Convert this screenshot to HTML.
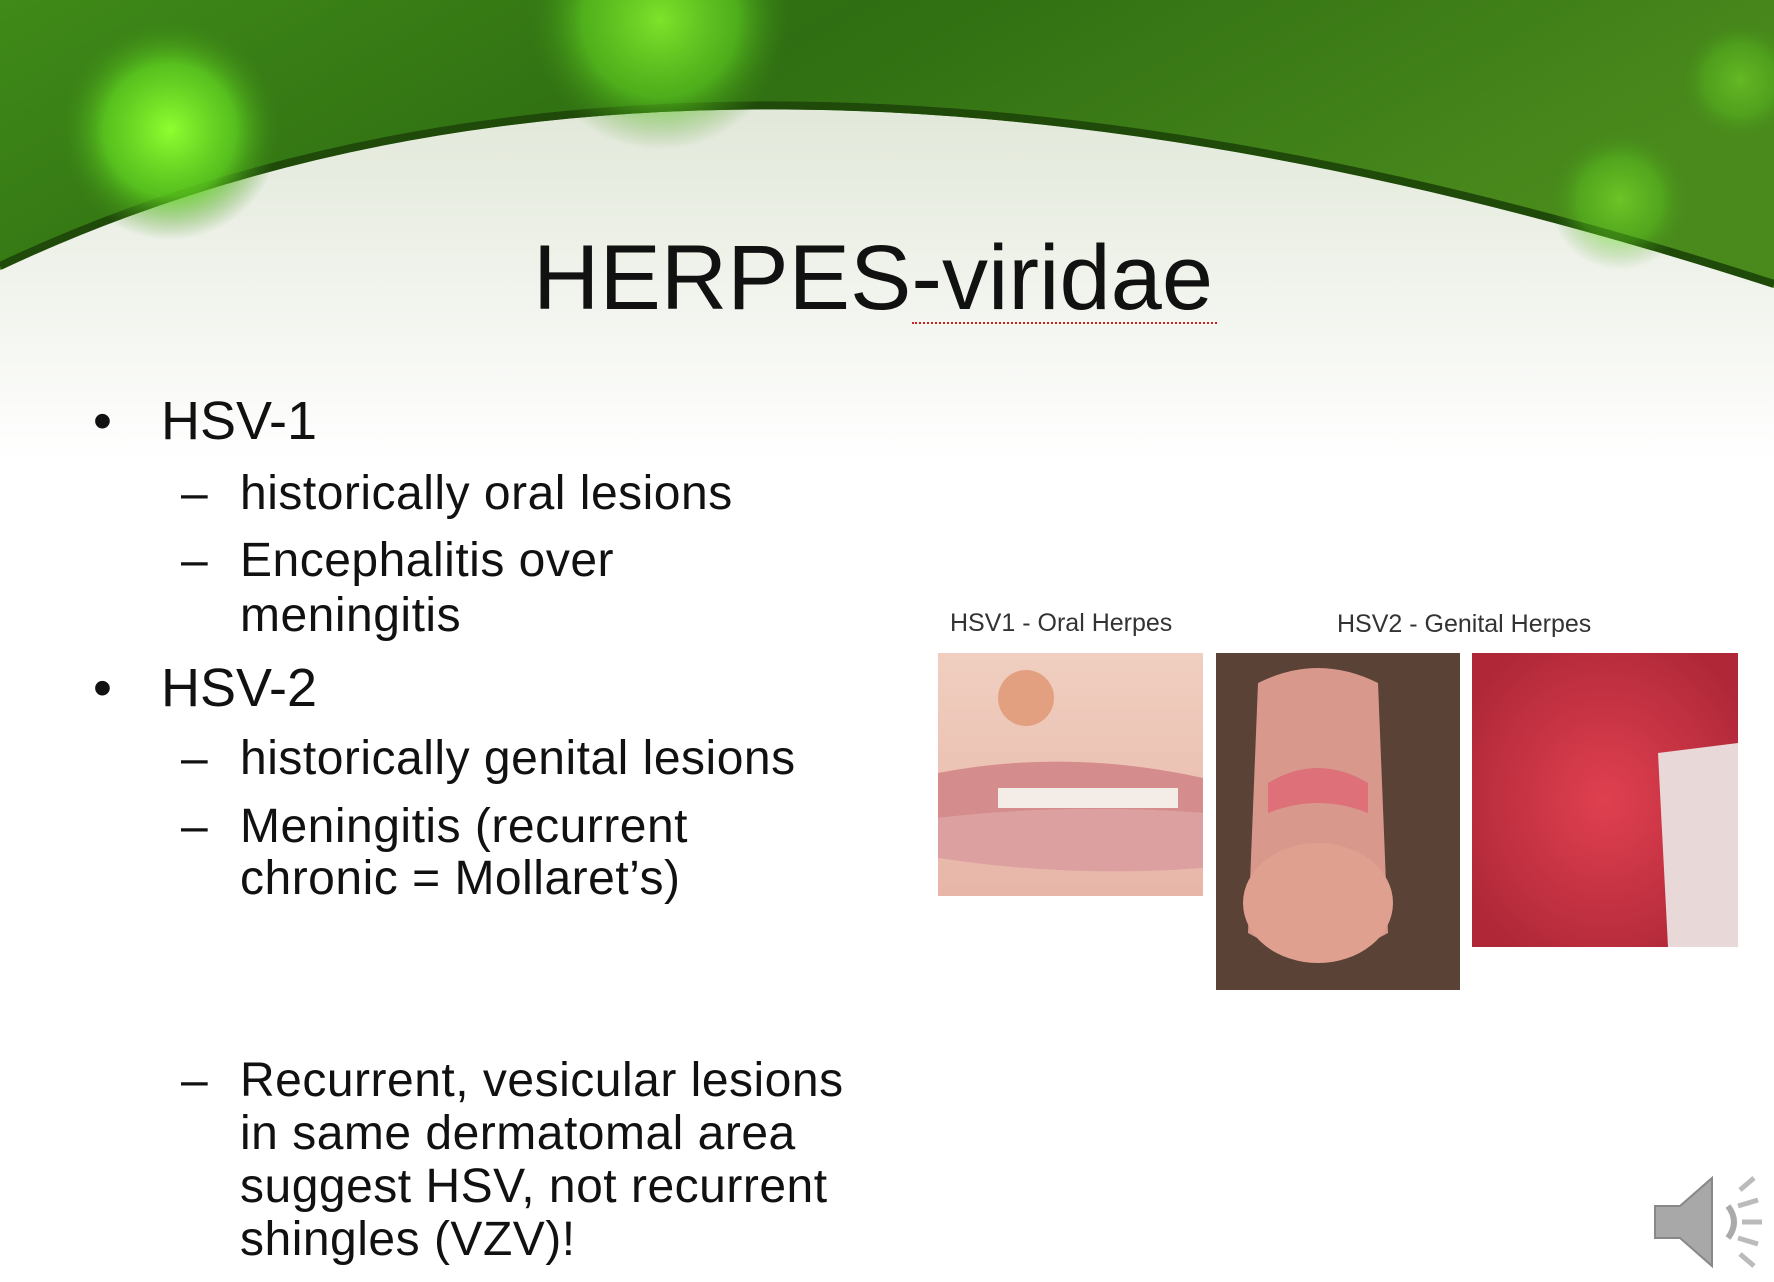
<!DOCTYPE html>
<html><head><meta charset="utf-8">
<style>
html,body{margin:0;padding:0;}
body{width:1774px;height:1282px;position:relative;overflow:hidden;background:#fff;font-family:"Liberation Sans",Arial,sans-serif;color:#111;}
.t{position:absolute;white-space:nowrap;line-height:1;}
.sub{font-size:48px;letter-spacing:0.5px;}
</style></head><body>
<svg style="position:absolute;left:0;top:0" width="1774" height="1282">
<defs>
<linearGradient id="g1" x1="0" y1="0" x2="1" y2="0.3">
<stop offset="0" stop-color="#3f8a18"/><stop offset="0.45" stop-color="#2f6e12"/><stop offset="1" stop-color="#4a8a1c"/></linearGradient>
<linearGradient id="fade" x1="0" y1="0" x2="0" y2="1">
<stop offset="0" stop-color="#dfe6d6"/><stop offset="1" stop-color="#ffffff"/></linearGradient>
<radialGradient id="v" cx="0.5" cy="0.5" r="0.5"><stop offset="0" stop-color="#8fff30"/><stop offset="0.6" stop-color="#5fd020" stop-opacity="0.8"/><stop offset="1" stop-color="#3f8a18" stop-opacity="0"/></radialGradient>
</defs>
<rect x="0" y="80" width="1774" height="380" fill="url(#fade)"/>
<path d="M0,270 Q700,-60 1774,288 L1774,0 L0,0 Z" fill="url(#g1)"/>
<path d="M0,266 Q700,-64 1774,284" fill="none" stroke="#1f4a0a" stroke-width="8"/>
<circle cx="170" cy="130" r="110" fill="url(#v)"/>
<circle cx="660" cy="20" r="130" fill="url(#v)" opacity="0.8"/>
<circle cx="1620" cy="200" r="70" fill="url(#v)" opacity="0.5"/>
<circle cx="1740" cy="80" r="60" fill="url(#v)" opacity="0.4"/>
</svg>
<div class="t" style="left:533px;top:232px;font-size:92px;">HERPES-viridae</div>
<div style="position:absolute;left:912px;top:322px;width:305px;border-top:2px dotted #d02020;"></div>

<div class="t" style="left:93px;top:394px;font-size:54px;">•</div>
<div class="t" style="left:161px;top:394px;font-size:54px;">HSV-1</div>
<div class="t sub" style="left:181px;top:470px;">–</div>
<div class="t sub" style="left:240px;top:470px;">historically oral lesions</div>
<div class="t sub" style="left:181px;top:537px;">–</div>
<div class="t sub" style="left:240px;top:537px;">Encephalitis over</div>
<div class="t sub" style="left:240px;top:592px;">meningitis</div>

<div class="t" style="left:93px;top:661px;font-size:54px;">•</div>
<div class="t" style="left:161px;top:661px;font-size:54px;">HSV-2</div>
<div class="t sub" style="left:181px;top:735px;">–</div>
<div class="t sub" style="left:240px;top:735px;">historically genital lesions</div>
<div class="t sub" style="left:181px;top:803px;">–</div>
<div class="t sub" style="left:240px;top:803px;">Meningitis (recurrent</div>
<div class="t sub" style="left:240px;top:855px;">chronic = Mollaret’s)</div>

<div class="t sub" style="left:181px;top:1057px;">–</div>
<div class="t sub" style="left:240px;top:1057px;">Recurrent, vesicular lesions</div>
<div class="t sub" style="left:240px;top:1110px;">in same dermatomal area</div>
<div class="t sub" style="left:240px;top:1163px;">suggest HSV, not recurrent</div>
<div class="t sub" style="left:240px;top:1216px;">shingles (VZV)!</div>

<div class="t" style="left:950px;top:611px;font-size:25px;color:#333;">HSV1 - Oral Herpes</div>
<div class="t" style="left:1337px;top:612px;font-size:25px;color:#333;">HSV2 - Genital Herpes</div>

<svg style="position:absolute;left:938px;top:653px" width="800" height="338">
<defs>
<linearGradient id="skin" x1="0" y1="0" x2="0" y2="1"><stop offset="0" stop-color="#f0cfc0"/><stop offset="1" stop-color="#e7b6a8"/></linearGradient>
<radialGradient id="red" cx="0.5" cy="0.5" r="0.6"><stop offset="0" stop-color="#e04050"/><stop offset="1" stop-color="#b02838"/></radialGradient>
</defs>
<rect x="0" y="0" width="265" height="243" fill="url(#skin)"/>
<path d="M0,120 Q130,95 265,125 L265,160 Q130,150 0,165 Z" fill="#d48c8c"/>
<path d="M0,165 Q130,150 265,160 L265,215 Q130,225 0,205 Z" fill="#dda0a0"/>
<rect x="60" y="135" width="180" height="20" fill="#f4ece6"/>
<circle cx="88" cy="45" r="28" fill="#e2a080"/>
<rect x="278" y="0" width="244" height="337" fill="#5a4236"/>
<path d="M320,30 Q380,0 440,30 L450,280 Q380,320 310,280 Z" fill="#d8988c"/>
<ellipse cx="380" cy="250" rx="75" ry="60" fill="#e0a090"/>
<path d="M330,130 Q380,100 430,130 L430,160 Q380,140 330,160Z" fill="#e06070" opacity="0.7"/>
<rect x="534" y="0" width="266" height="294" fill="url(#red)"/>
<path d="M720,100 L800,90 L800,294 L730,294 Z" fill="#e8d8d8"/>
</svg>

<svg style="position:absolute;left:1650px;top:1168px" width="120" height="108">
<path d="M5,38 L30,38 L62,10 L62,98 L30,70 L5,70 Z" fill="#a8a8a8" stroke="#888" stroke-width="2"/>
<path d="M78,38 Q90,54 78,70" fill="none" stroke="#aaa" stroke-width="6"/>
<path d="M90,22 L104,10 M92,54 L112,54 M90,86 L104,98 M88,38 L108,32 M88,70 L108,76" stroke="#bbb" stroke-width="5"/>
</svg>
</body></html>
